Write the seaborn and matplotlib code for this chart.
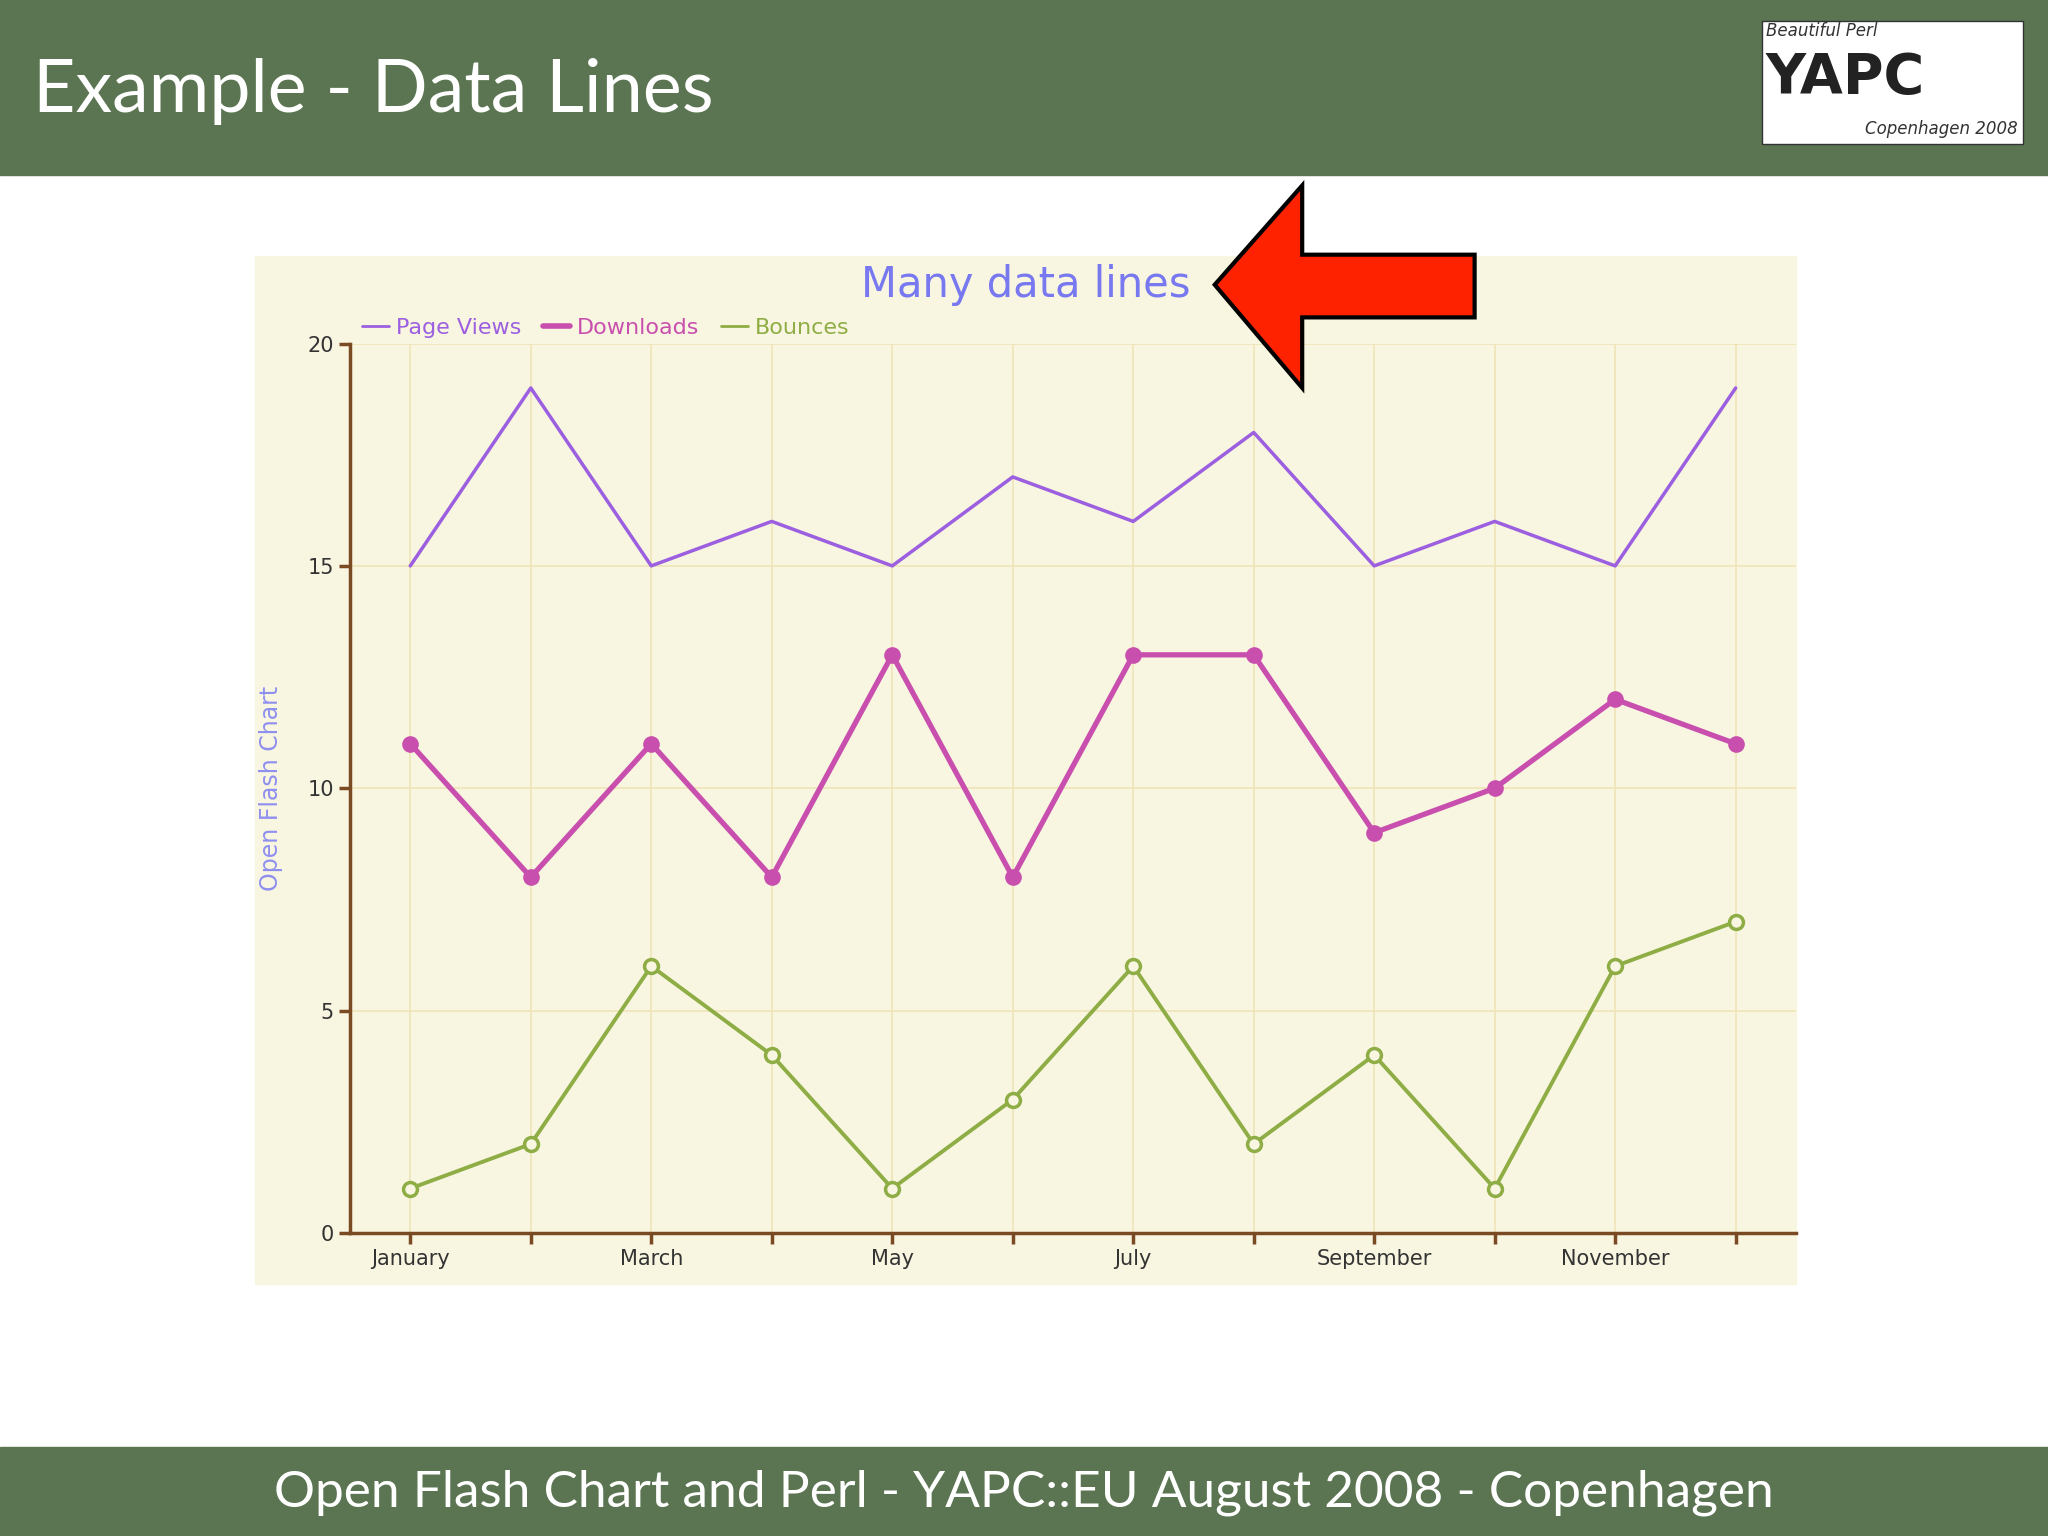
import matplotlib
matplotlib.use("Agg")
import matplotlib.pyplot as plt
import seaborn as sns
import pandas as pd
from matplotlib.patches import Polygon, Rectangle
from matplotlib.lines import Line2D

months = ["January","February","March","April","May","June","July","August",
          "September","October","November","December"]
page_views = [15,19,15,16,15,17,16,18,15,16,15,19]
downloads = [11,8,11,8,13,8,13,13,9,10,12,11]
bounces = [1,2,6,4,1,3,6,2,4,1,6,7]
xtick_labels = [m if i % 2 == 0 else "" for i, m in enumerate(months)]

sns.set_theme(style="white")
plt.rcParams['font.family'] = ['DejaVu Sans']

W, H = 1568, 1176
fig = plt.figure(figsize=(20.48, 15.36), dpi=100)
fig.patch.set_facecolor("white")
def fx(x): return x / W
def fy(y): return 1 - y / H

green = "#5b7451"
fig.add_artist(Rectangle((0, fy(134)), 1, 134 / H, transform=fig.transFigure, color=green, zorder=0))
fig.add_artist(Rectangle((0, 0), 1, 68 / H, transform=fig.transFigure, color=green, zorder=0))
fig.text(fx(25), fy(70), "Example - Data Lines", color="white", fontsize=53, va="center",
         family="Lato")
fig.text(0.5, fy(1143), "Open Flash Chart and Perl - YAPC::EU August 2008 - Copenhagen",
         color="white", fontsize=37, ha="center", va="center", family="Lato")
# logo
fig.add_artist(Rectangle((fx(1349), fy(110)), 200 / W, 94 / H, transform=fig.transFigure,
                         facecolor="white", edgecolor="#333333", zorder=1))
fig.text(fx(1352), fy(24), "Beautiful Perl", fontsize=12, style="italic", color="#333", va="center")
fig.text(fx(1352), fy(60), "YAPC", fontsize=40, weight="bold", color="#222", va="center")
fig.text(fx(1545), fy(99), "Copenhagen 2008", fontsize=12, style="italic", color="#333",
         va="center", ha="right")

# chart panel
fig.add_artist(Rectangle((fx(195), fy(983)), 1180 / W, 787 / H, transform=fig.transFigure,
                         color="#f8f6e1", zorder=0.5))

ax = fig.add_axes([fx(268), fy(944), (1375 - 268) / W, (944 - 263) / H])
ax.set_zorder(2)
ax.set_facecolor("#f8f6e1")
x = list(range(12))
df = pd.DataFrame({"x": x, "pv": page_views, "dl": downloads, "b": bounces})
sns.lineplot(data=df, x="x", y="pv", ax=ax, color="#9b5fe0", lw=2.5)
sns.lineplot(data=df, x="x", y="dl", ax=ax, color="#c94fae", lw=3.8, marker="o",
             markersize=12, markeredgewidth=0)
sns.lineplot(data=df, x="x", y="b", ax=ax, color="#8fad45", lw=2.8, marker="o",
             markersize=10, markerfacecolor="#f8f6e1", markeredgecolor="#8fad45", markeredgewidth=2.5)
ax.set_xlim(-0.5, 11.5)
ax.set_ylim(0, 20)
ax.set_xticks(x)
ax.set_xticklabels(xtick_labels, fontsize=15, color="#333")
ax.set_yticks([0, 5, 10, 15, 20])
ax.set_yticklabels(["0", "5", "10", "15", "20"], fontsize=15, color="#333")
ax.grid(True, color="#efe4b8", lw=1.2)
brown = "#7a4a22"
for s in ["top", "right"]:
    ax.spines[s].set_visible(False)
for s in ["left", "bottom"]:
    ax.spines[s].set_color(brown)
    ax.spines[s].set_linewidth(2.5)
ax.tick_params(axis="both", colors=brown, length=8, width=2.5, direction="out", bottom=True, left=True)
for t in ax.get_xticklabels() + ax.get_yticklabels():
    t.set_color("#333")
ax.set_xlabel("")
ax.set_ylabel("Open Flash Chart", color="#8f8ff0", fontsize=17, labelpad=18)

fig.text(fx(785), fy(218), "Many data lines", color="#7878f0", fontsize=30, ha="center", va="center")
handles = [Line2D([], [], color="#9b5fe0", lw=2), Line2D([], [], color="#c94fae", lw=4),
           Line2D([], [], color="#8fad45", lw=2)]
leg = fig.legend(handles, ["Page Views", "Downloads", "Bounces"], loc="center left",
                 bbox_to_anchor=(fx(262), fy(251)), ncol=3, frameon=False, fontsize=16,
                 handlelength=1.2, handletextpad=0.3, columnspacing=1.0)
for t, c in zip(leg.get_texts(), ["#9b5fe0", "#c94fae", "#8fad45"]):
    t.set_color(c)

pts = [(930, 218), (997, 142), (997, 195), (1129, 195), (1129, 243), (997, 243), (997, 297)]
fig.add_artist(Polygon([(fx(a), fy(b)) for a, b in pts], closed=True, transform=fig.transFigure,
                       facecolor="#ff2200", edgecolor="black", lw=3, zorder=5))

fig.savefig("out.png", dpi=100)
